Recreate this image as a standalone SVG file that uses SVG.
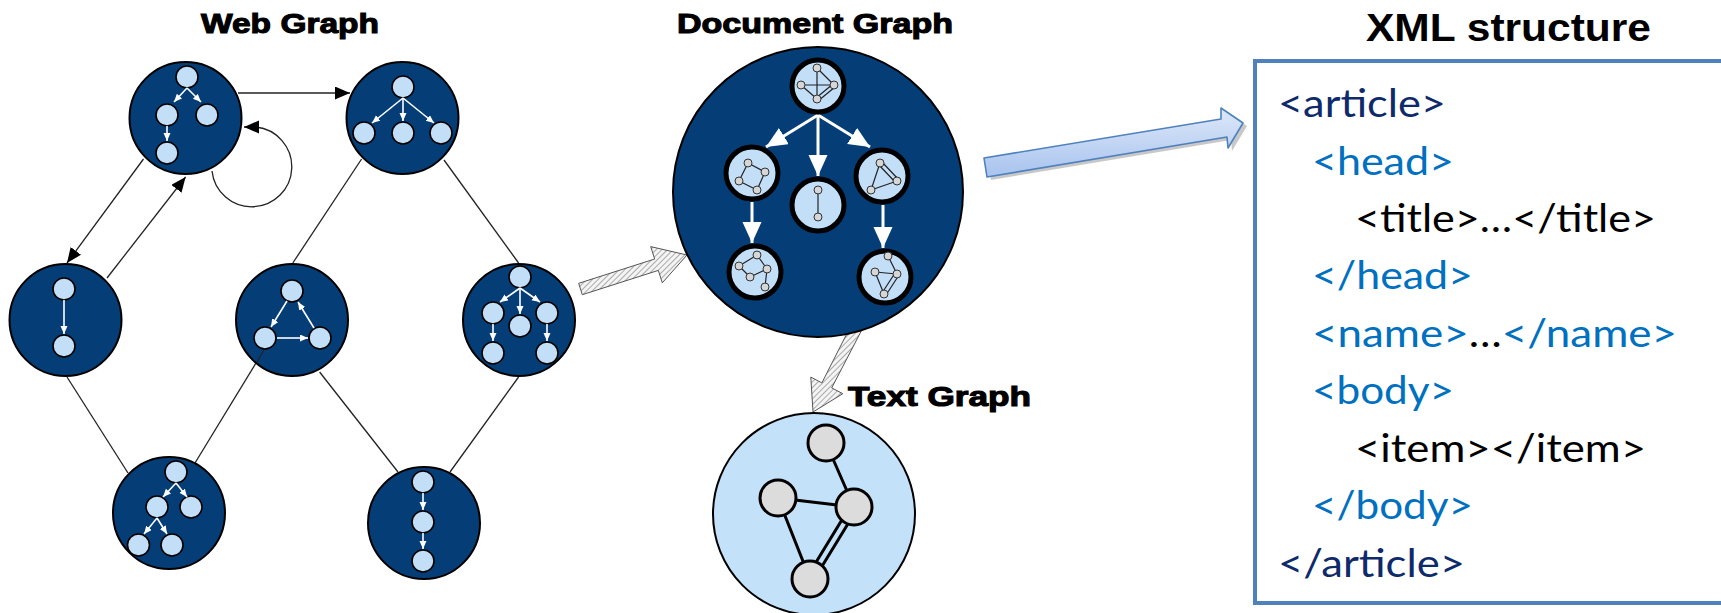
<svg xmlns="http://www.w3.org/2000/svg" width="1721" height="613" viewBox="0 0 1721 613">
<style>
.wn{fill:#053E76;stroke:#000;stroke-width:2}
.in{fill:#C3DFF8;stroke:#000;stroke-width:1.6}
.ia{stroke:#fff;stroke-width:1.6;fill:none;marker-end:url(#wsm)}
.edge{stroke:#222;stroke-width:1.3;fill:none}
.ttl{font-family:"Liberation Sans",Arial,sans-serif;font-weight:bold;font-size:28px;fill:#000;stroke:#000;stroke-width:1.1}
.sub{fill:#C3DFF8;stroke:#000;stroke-width:5}
.dot{fill:#D6D6D6;stroke:#333;stroke-width:1}
.me{stroke:#222;stroke-width:1.2;fill:none}
.da{stroke:#fff;stroke-width:3;fill:none;marker-end:url(#wbig)}
.tn{fill:#DCDCDC;stroke:#000;stroke-width:3}
.te{stroke:#000;stroke-width:3;fill:none}
.x{font-family:Lato,"Open Sans",sans-serif;font-size:39px}
.nv{fill:#0E2A6B}.bl{fill:#0070C0}.bk{fill:#000}
</style>
<defs>
<marker id="blk" markerUnits="userSpaceOnUse" markerWidth="16" markerHeight="14" refX="15" refY="6.5" orient="auto"><path d="M0,0 L15,6.5 L0,13 z" fill="#000"/></marker>
<marker id="wsm" markerUnits="userSpaceOnUse" markerWidth="9" markerHeight="8" refX="8" refY="3.5" orient="auto"><path d="M0,0 L8,3.5 L0,7 z" fill="#fff"/></marker>
<marker id="wbig" markerUnits="userSpaceOnUse" markerWidth="22" markerHeight="20" refX="21" refY="9.5" orient="auto"><path d="M0,0 L21,9.5 L0,19 z" fill="#fff"/></marker>
<pattern id="hatch" patternUnits="userSpaceOnUse" width="4" height="4" patternTransform="rotate(45)"><rect width="4" height="4" fill="#f4f4f4"/><line x1="0" y1="0" x2="0" y2="4" stroke="#8a8a8a" stroke-width="1.4"/></pattern>
<linearGradient id="bg" x1="0" y1="0" x2="0" y2="1"><stop offset="0" stop-color="#DDE8F9"/><stop offset="1" stop-color="#A8C3EE"/></linearGradient>
</defs>
<rect width="1721" height="613" fill="#fff"/>

<text class="ttl" x="201" y="33" textLength="178" lengthAdjust="spacingAndGlyphs">Web Graph</text>
<text class="ttl" x="677" y="33" textLength="276" lengthAdjust="spacingAndGlyphs">Document Graph</text>
<text class="ttl" x="848" y="406" textLength="183" lengthAdjust="spacingAndGlyphs">Text Graph</text>
<text x="1366" y="41" textLength="285" lengthAdjust="spacingAndGlyphs" style="font-family:'Liberation Sans',Arial,sans-serif;font-weight:bold;font-size:39px">XML structure</text>

<g id="connectors">
<line class="edge" x1="238" y1="93" x2="350" y2="93" marker-end="url(#blk)"/>
<path class="edge" d="M212,171 A40,40 0 1 0 256,127 L244,127" marker-end="url(#blk)"/>
<line class="edge" x1="143.5" y1="159" x2="67" y2="263" marker-end="url(#blk)"/>
<line class="edge" x1="107" y1="278" x2="185.6" y2="177" marker-end="url(#blk)"/>
<line class="edge" x1="361.6" y1="159" x2="292.8" y2="263"/>
<line class="edge" x1="444" y1="160" x2="518.6" y2="263"/>
<line class="edge" x1="67" y1="377" x2="128" y2="473"/>
<line class="edge" x1="264" y1="350" x2="195" y2="463"/>
<line class="edge" x1="319.6" y1="372" x2="398" y2="472"/>
<line class="edge" x1="518.6" y1="377" x2="450" y2="472"/>
<polygon points="578.7,283.3 654.7,259 650.7,246.6 687,255 662.3,282.8 658.3,270.4 582.3,294.7" fill="url(#hatch)" stroke="#555" stroke-width="1"/>
<polygon points="861.1,305.5 821.9,382.9 810.8,377.1 813,412 842.8,393.7 831.7,387.9 871.9,310.5" fill="url(#hatch)" stroke="#555" stroke-width="1"/>
<polygon points="988,161 1225,122 1225,111 1247,126 1232,151 1231,140 991,180" fill="#9a9a9a" opacity="0.55"/>
<polygon points="984,158 1221,119 1221,108 1243,123 1228,148 1227,137 987,177" fill="url(#bg)" stroke="#4F81BD" stroke-width="1.6" stroke-linejoin="round"/>
</g>

<g id="node-a">
<circle class="wn" cx="185.5" cy="118" r="56"/>
<circle class="in" cx="187" cy="77" r="11"/><circle class="in" cx="167" cy="115" r="11"/><circle class="in" cx="207" cy="115" r="11"/><circle class="in" cx="167" cy="153" r="11"/>
<path class="ia" d="M187,88 L174,102"/><path class="ia" d="M187,88 L201,102"/><path class="ia" d="M167,126 L167,141"/>
</g>
<g id="node-b">
<circle class="wn" cx="402.5" cy="118" r="56"/>
<circle class="in" cx="403" cy="87" r="11"/><circle class="in" cx="364" cy="133" r="11"/><circle class="in" cx="403" cy="133" r="11"/><circle class="in" cx="441" cy="133" r="11"/>
<path class="ia" d="M403,98 L372,123"/><path class="ia" d="M403,98 L403,121"/><path class="ia" d="M403,98 L434,123"/>
</g>
<g id="node-c">
<circle class="wn" cx="65.5" cy="320" r="56"/>
<circle class="in" cx="64" cy="289" r="11"/><circle class="in" cx="64" cy="346" r="11"/>
<path class="ia" d="M64,300 L64,334"/>
</g>
<g id="node-d">
<circle class="wn" cx="292" cy="320" r="56"/>
<circle class="in" cx="292" cy="291" r="11"/><circle class="in" cx="265" cy="338" r="11"/><circle class="in" cx="320" cy="338" r="11"/>
<path class="ia" d="M287,301 L271,327"/><path class="ia" d="M314,328 L298,302"/><path class="ia" d="M277,338 L308,338"/>
<line x1="264" y1="350" x2="257" y2="362" stroke="#222" stroke-width="1.2"/>
</g>
<g id="node-e">
<circle class="wn" cx="519" cy="320" r="56"/>
<circle class="in" cx="520" cy="277" r="11"/><circle class="in" cx="493" cy="313" r="11"/><circle class="in" cx="520" cy="326" r="11"/><circle class="in" cx="547" cy="313" r="11"/><circle class="in" cx="493" cy="353" r="11"/><circle class="in" cx="547" cy="353" r="11"/>
<path class="ia" d="M520,288 L500,302"/><path class="ia" d="M520,288 L520,314"/><path class="ia" d="M520,288 L540,302"/><path class="ia" d="M493,324 L493,341"/><path class="ia" d="M547,324 L547,341"/>
</g>
<g id="node-f">
<circle class="wn" cx="169" cy="513" r="56"/>
<circle class="in" cx="176" cy="472" r="11"/><circle class="in" cx="157" cy="507" r="11"/><circle class="in" cx="191" cy="507" r="11"/><circle class="in" cx="138.5" cy="545" r="11"/><circle class="in" cx="172" cy="545" r="11"/>
<path class="ia" d="M176,483 L163,497"/><path class="ia" d="M176,483 L187,497"/><path class="ia" d="M157,518 L144,534"/><path class="ia" d="M157,518 L167,534"/>
</g>
<g id="node-g">
<circle class="wn" cx="424" cy="523" r="56"/>
<circle class="in" cx="423" cy="482" r="11"/><circle class="in" cx="423" cy="522" r="11"/><circle class="in" cx="423" cy="561" r="11"/>
<path class="ia" d="M423,493 L423,510"/><path class="ia" d="M423,533 L423,549"/>
</g>

<g id="document-graph">
<circle cx="818" cy="192" r="145" fill="#053E76" stroke="#000" stroke-width="2"/>
<path class="da" d="M818,115 L766,147"/><path class="da" d="M818,115 L818,176"/><path class="da" d="M818,115 L870,147"/>
<path class="da" d="M752,202 L752,243"/><path class="da" d="M883,205 L883,248"/>
<circle class="sub" cx="818" cy="86" r="26"/>
<circle class="sub" cx="752" cy="173" r="26"/>
<circle class="sub" cx="818" cy="205" r="26"/>
<circle class="sub" cx="882" cy="176" r="26"/>
<circle class="sub" cx="755" cy="272" r="26"/>
<circle class="sub" cx="885" cy="277" r="26"/>
<path class="me" d="M817,68 L817,99 M801,85 L834,85 M817,68 L834,85 M801,85 L817,99 M816,98 L833,84 M818,101 L835,87"/>
<circle class="dot" cx="817" cy="68" r="4"/><circle class="dot" cx="801" cy="85" r="4"/><circle class="dot" cx="834" cy="85" r="4"/><circle class="dot" cx="817" cy="99" r="4"/>
<path class="me" d="M748,163 L765,172 M748,163 L739,181 M739,181 L757,190 M765,172 L757,190"/>
<circle class="dot" cx="748" cy="163" r="4"/><circle class="dot" cx="765" cy="172" r="4"/><circle class="dot" cx="739" cy="181" r="4"/><circle class="dot" cx="757" cy="190" r="4"/>
<path class="me" d="M818,190 L818,217"/>
<circle class="dot" cx="818" cy="190" r="4"/><circle class="dot" cx="818" cy="217" r="4"/>
<path class="me" d="M879,165 L896,183 M882,162 L899,180 M880,163 L871,190 M871,190 L897,181"/>
<circle class="dot" cx="880" cy="163" r="4"/><circle class="dot" cx="897" cy="181" r="4"/><circle class="dot" cx="871" cy="190" r="4"/>
<path class="me" d="M757,255 L739,266 M757,255 L767,269 M739,266 L750,277 M750,277 L767,269 M767,269 L765,287"/>
<circle class="dot" cx="757" cy="255" r="4"/><circle class="dot" cx="739" cy="266" r="4"/><circle class="dot" cx="767" cy="269" r="4"/><circle class="dot" cx="750" cy="277" r="4"/><circle class="dot" cx="765" cy="287" r="4"/>
<path class="me" d="M888,256 L897,274 M875,272 L897,274 M875,272 L884,294 M895,273 L882,293 M899,275 L886,295"/>
<circle class="dot" cx="888" cy="256" r="4"/><circle class="dot" cx="875" cy="272" r="4"/><circle class="dot" cx="897" cy="274" r="4"/><circle class="dot" cx="884" cy="294" r="4"/>
</g>

<g id="text-graph">
<circle cx="814" cy="514" r="101" fill="#C4E1FA" stroke="#000" stroke-width="2"/>
<path class="te" d="M826,443 L854,507 M778,498 L854,507 M778,498 L810,579 M851,505 L807,577 M857,509 L813,581"/>
<circle class="tn" cx="826" cy="443" r="18"/>
<circle class="tn" cx="778" cy="498" r="18"/>
<circle class="tn" cx="854" cy="507" r="18"/>
<circle class="tn" cx="810" cy="579" r="18"/>
</g>

<g id="xml-structure">
<rect x="1255" y="61" width="1464" height="542" fill="#fff" stroke="#4F81BD" stroke-width="4"/>
<text class="x nv" x="1278" y="117" textLength="168" lengthAdjust="spacingAndGlyphs">&lt;article&gt;</text>
<text class="x bl" x="1312" y="175" textLength="142" lengthAdjust="spacingAndGlyphs">&lt;head&gt;</text>
<text class="x bk" x="1355" y="232" textLength="301" lengthAdjust="spacingAndGlyphs">&lt;title&gt;…&lt;/title&gt;</text>
<text class="x bl" x="1312" y="289" textLength="161" lengthAdjust="spacingAndGlyphs">&lt;/head&gt;</text>
<text class="x bl" x="1312" y="347" textLength="365" lengthAdjust="spacingAndGlyphs">&lt;name&gt;<tspan class="bk">…</tspan>&lt;/name&gt;</text>
<text class="x bl" x="1312" y="404" textLength="142" lengthAdjust="spacingAndGlyphs">&lt;body&gt;</text>
<text class="x bk" x="1355" y="462" textLength="291" lengthAdjust="spacingAndGlyphs">&lt;item&gt;&lt;/item&gt;</text>
<text class="x bl" x="1312" y="519" textLength="161" lengthAdjust="spacingAndGlyphs">&lt;/body&gt;</text>
<text class="x nv" x="1278" y="577" textLength="187" lengthAdjust="spacingAndGlyphs">&lt;/article&gt;</text>
</g>
</svg>
